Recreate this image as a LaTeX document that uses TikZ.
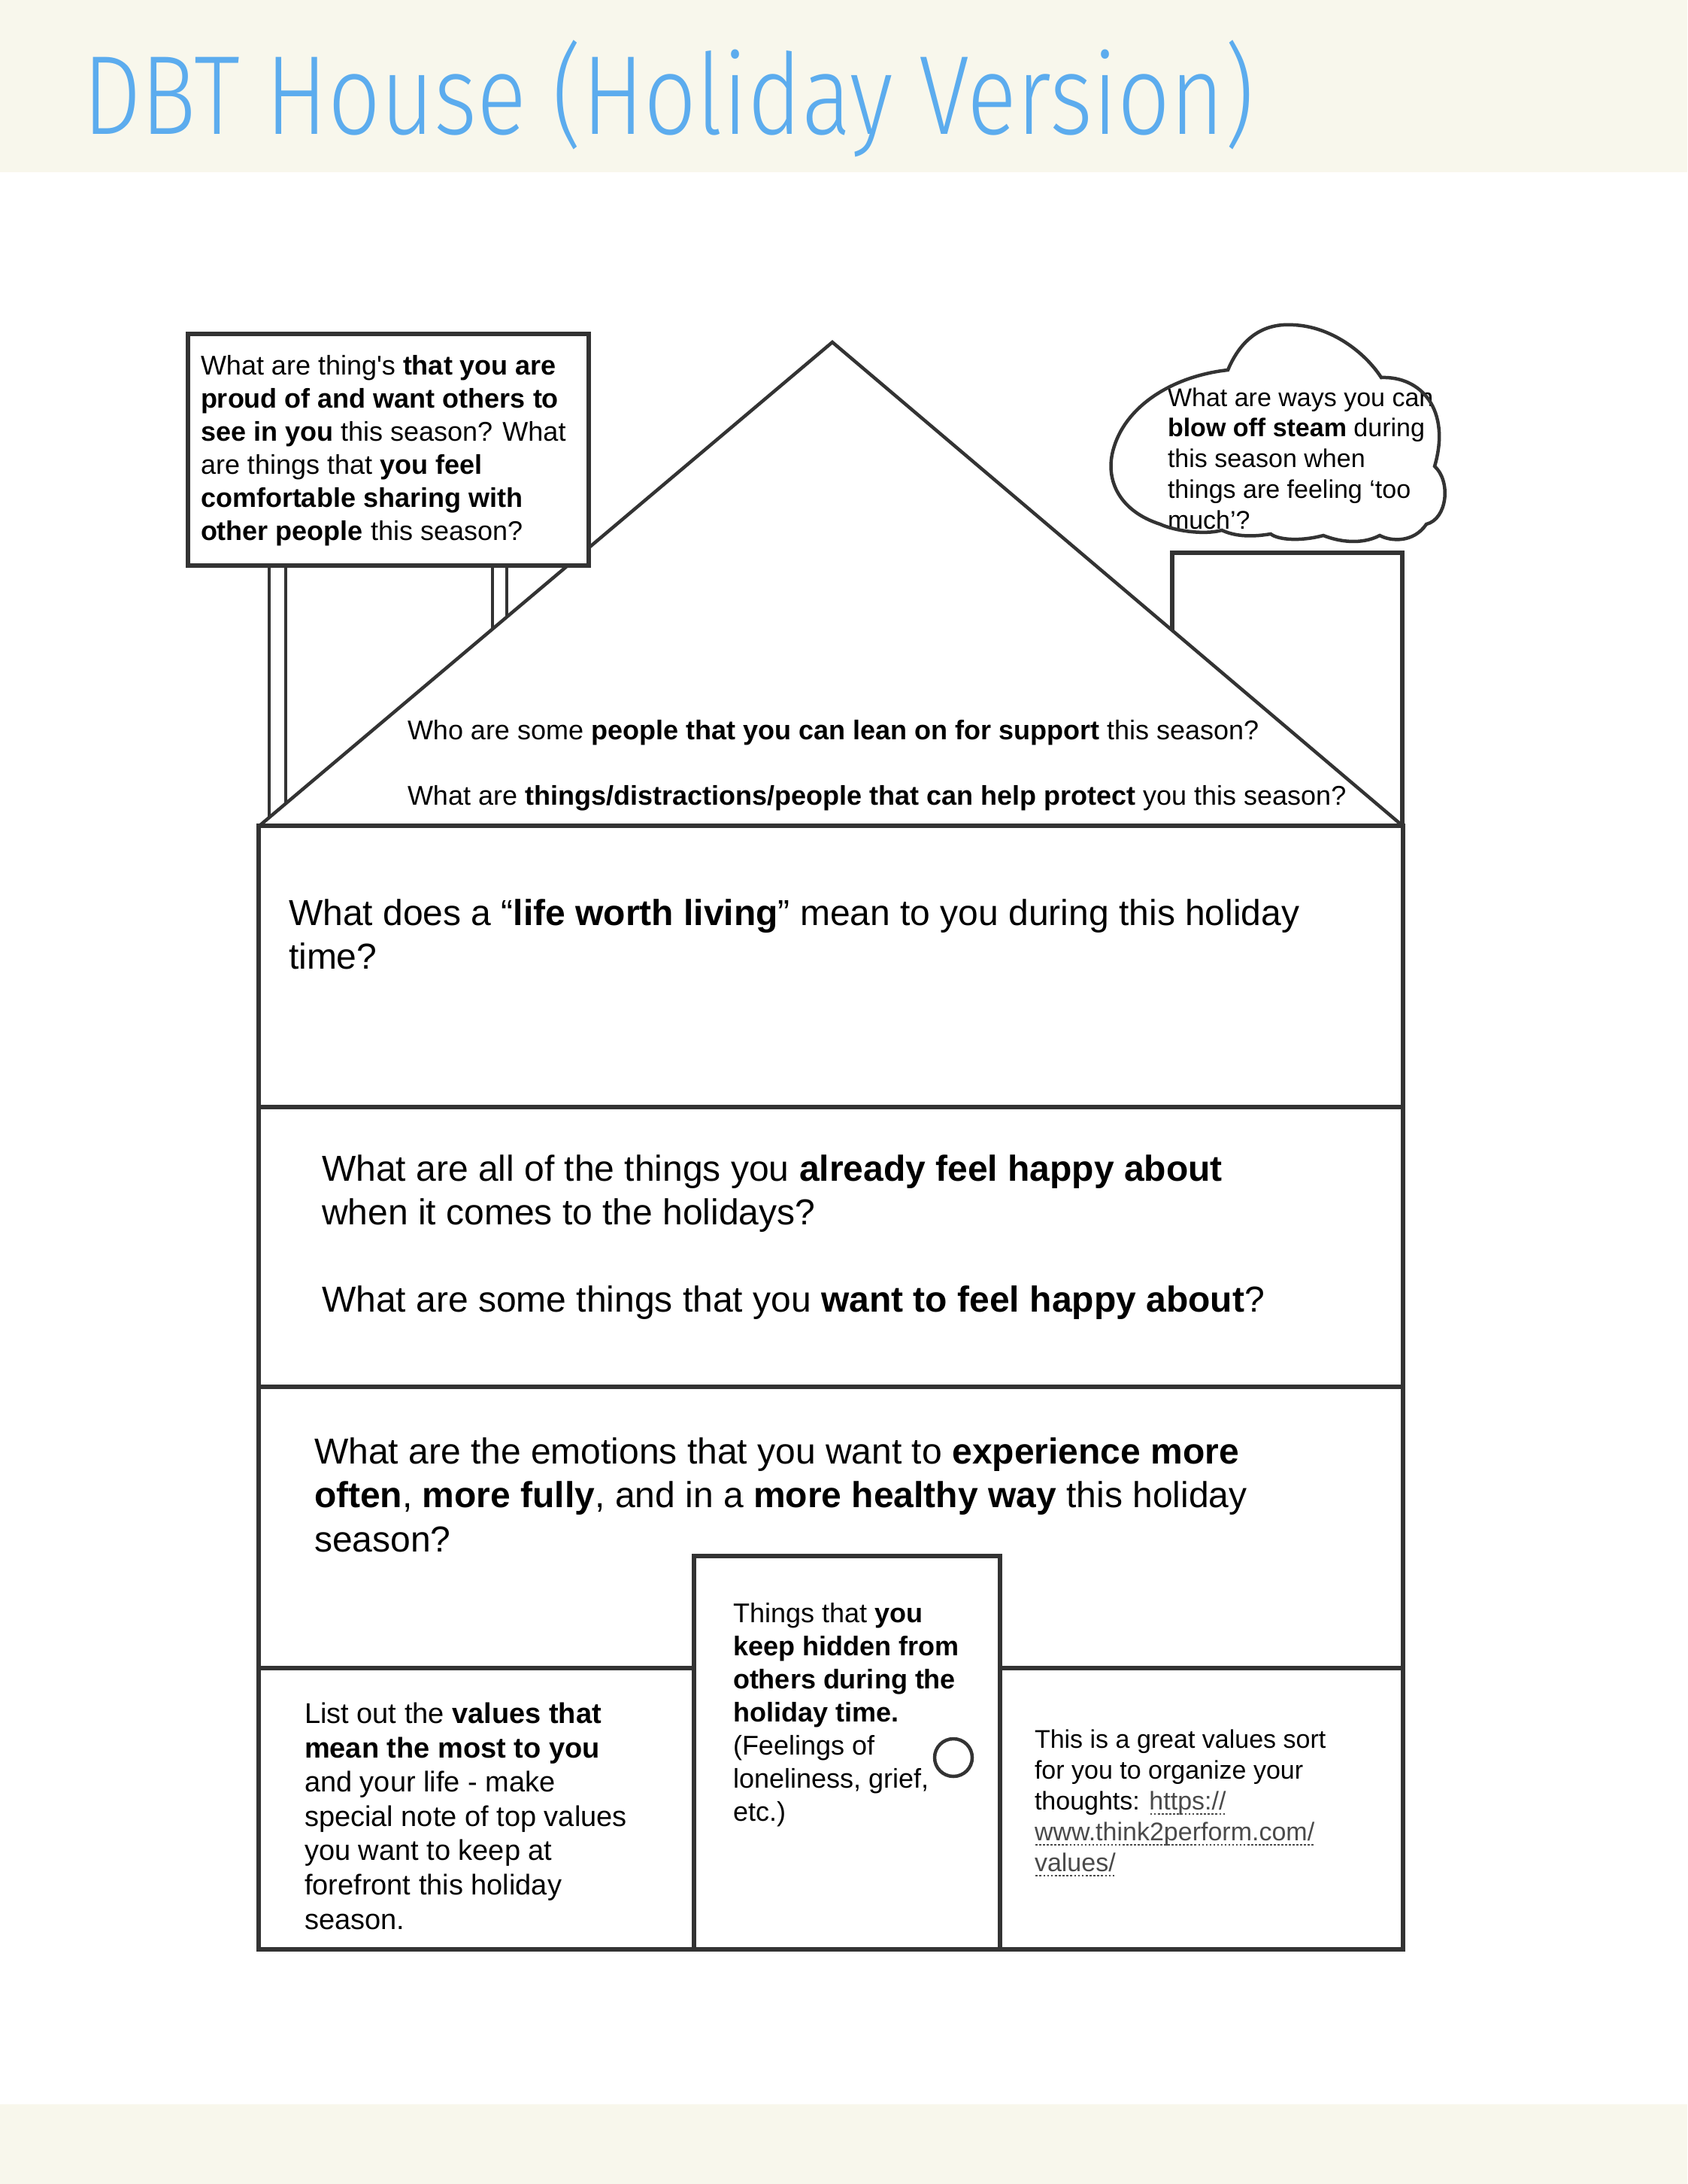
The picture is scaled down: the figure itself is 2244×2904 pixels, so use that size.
\documentclass[tikz,border=0pt]{standalone}
\usepackage{fontspec}
\setmainfont{Liberation Sans}
\IfFontExistsTF{FiraSans-Light.otf}{\newfontfamily\titlefont{FiraSans-Light.otf}}{%
  \IfFontExistsTF{Fira Sans Light}{\newfontfamily\titlefont{Fira Sans Light}}{\newfontfamily\titlefont{DejaVu Sans}}}
\definecolor{cream}{HTML}{F8F7EC}
\definecolor{titleblue}{RGB}{92,172,238}
\definecolor{linegray}{HTML}{333333}
\definecolor{linkgray}{HTML}{4A4A4A}
\newcommand\dul[1]{\setbox0\hbox{#1}\rlap{\raisebox{-7pt}{\hbox to \wd0{\xleaders\hbox to 5pt{\hss\rule{2.6pt}{1.6pt}\hss}\hfill}}}\box0}
\begin{document}
\begin{tikzpicture}[x=1pt,y=-1pt,
  ln/.style={draw=linegray,line width=5.5pt},
  thin/.style={draw=linegray,line width=4.5pt},
  txt/.style={inner sep=0pt,outer sep=0pt,align=left,anchor=base west,text=black},
  big/.style={txt,font=\fontsize{48}{58}\selectfont},
  small/.style={txt,font=\fontsize{36}{44}\selectfont}]
\useasboundingbox (0,0) rectangle (2244,2904);
\fill[cream] (0,0) rectangle (2244,229);
\fill[white] (0,229) rectangle (2244,2798);
\fill[cream] (0,2798) rectangle (2244,2904);
% title
\node[inner sep=0pt,anchor=base west,text=titleblue] (title) at (110,178)
  {\resizebox{1557pt}{125pt}{\titlefont DBT House (Holiday Version)}};
% roof
\draw[thin,line join=miter] (345,1098) -- (1107,455) -- (1863,1096);
% chimney
\draw[ln] (1559,838) -- (1559,735) -- (1865,735) -- (1865,1098);
% sign posts
\draw[thin] (358,752) -- (358,1087);
\draw[thin] (380,752) -- (380,1068);
\draw[thin] (655,752) -- (655,836);
\draw[thin] (674,752) -- (674,820);
% sign
\draw[ln,fill=white] (250,444) rectangle (783,752);
% (multi-line nodes: base anchor = baseline of the last line)
\node[small] (signtext) at (267,718) {What are thing\textquotesingle s \textbf{that you are}\\
\textbf{proud of and want others to}\\
\textbf{see in you} this season? What\\
are things that \textbf{you feel}\\
\textbf{comfortable sharing with}\\
\textbf{other people} this season?};
% cloud
\path[fill=white] (1633,492) .. controls (1655,440) and (1690,430) .. (1720,432)
 .. controls (1770,434) and (1815,468) .. (1837,502)
 .. controls (1890,500) and (1930,545) .. (1908,620)
 .. controls (1930,640) and (1925,690) .. (1897,697)
 .. controls (1880,722) and (1850,720) .. (1835,712)
 .. controls (1810,725) and (1780,720) .. (1760,712)
 .. controls (1730,720) and (1700,718) .. (1690,710)
 .. controls (1660,715) and (1640,712) .. (1625,705)
 .. controls (1600,712) and (1560,705) .. (1543,697)
 .. controls (1490,680) and (1470,640) .. (1480,600)
 .. controls (1495,540) and (1560,500) .. (1633,492) -- cycle;
\node[txt,font=\fontsize{34}{40.75}\selectfont] (cloudtext) at (1553,703) {What are ways you can\\
\textbf{blow off steam} during\\
this season when\\
things are feeling ‘too\\
much’?};
\draw[thin] (1633,492) .. controls (1655,440) and (1690,430) .. (1720,432)
 .. controls (1770,434) and (1815,468) .. (1837,502)
 .. controls (1890,500) and (1930,545) .. (1908,620)
 .. controls (1930,640) and (1925,690) .. (1897,697)
 .. controls (1880,722) and (1850,720) .. (1835,712)
 .. controls (1810,725) and (1780,720) .. (1760,712)
 .. controls (1730,720) and (1700,718) .. (1690,710)
 .. controls (1660,715) and (1640,712) .. (1625,705)
 .. controls (1600,712) and (1560,705) .. (1543,697)
 .. controls (1490,680) and (1470,640) .. (1480,600)
 .. controls (1495,540) and (1560,500) .. (1633,492) -- cycle;
% roof texts
\node[small] (roof1) at (542,983) {Who are some \textbf{people that you can lean on for support} this season?};
\node[small] (roof2) at (542,1070) {What are \textbf{things/distractions/people that can help protect} you this season?};
% house body
\draw[ln] (344,1098) rectangle (1866,2592);
\draw[ln] (344,1472) -- (1866,1472);
\draw[ln] (344,1844) -- (1866,1844);
\draw[ln] (344,2218) -- (1866,2218);
% door
\draw[ln,fill=white] (923,2069) rectangle (1330,2592);
\draw[thin] (1268,2337) circle[radius=25];
% texts in house
\node[big] (life) at (384,1288) {What does a “\textbf{life worth living}” mean to you during this holiday\\time?};
\node[big] (happy) at (428,1744) {What are all of the things you \textbf{already feel happy about}\\
when it comes to the holidays?\\[58pt]
What are some things that you \textbf{want to feel happy about}?};
\node[txt,font=\fontsize{48}{58.5}\selectfont] (emotions) at (418,2063) {What are the emotions that you want to \textbf{experience more}\\
\textbf{often}, \textbf{more fully}, and in a \textbf{more healthy way} this holiday\\
season?};
\node[txt,font=\fontsize{38}{45.6}\selectfont] (values) at (405,2565) {List out the \textbf{values that}\\
\textbf{mean the most to you}\\
and your life - make\\
special note of top values\\
you want to keep at\\
forefront this holiday\\
season.};
\node[small] (hidden) at (975,2421) {Things that \textbf{you}\\
\textbf{keep hidden from}\\
\textbf{others during the}\\
\textbf{holiday time.}\\
(Feelings of\\
loneliness, grief,\\
etc.)};
\node[txt,font=\fontsize{34}{41}\selectfont] (sort) at (1376,2488) {This is a great values sort\\
for you to organize your\\
thoughts: {\color{linkgray}\dul{https://}}\\
{\color{linkgray}\dul{www.think2perform.com/}}\\
{\color{linkgray}\dul{values/}}};
\end{tikzpicture}
\end{document}
